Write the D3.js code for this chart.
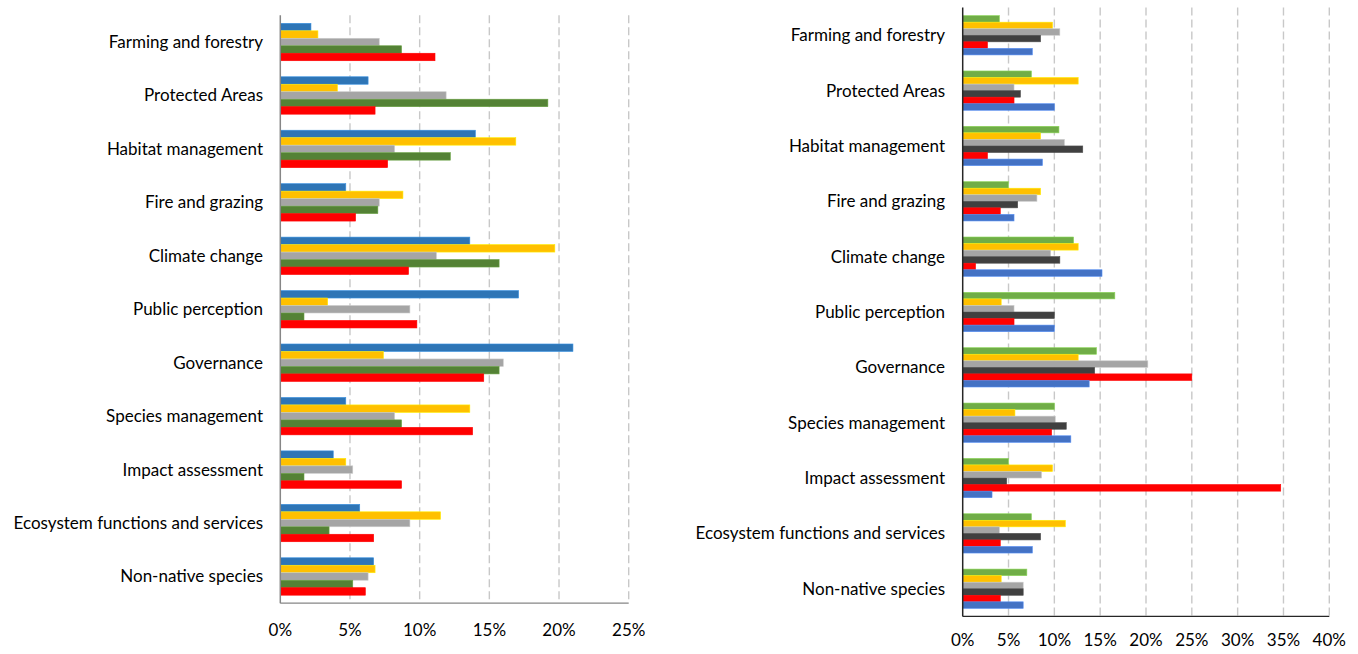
<!DOCTYPE html>
<html>
<head>
<meta charset="utf-8">
<script src="https://cdn.jsdelivr.net/npm/d3@7/dist/d3.min.js"></script>
<style>
  html, body { margin: 0; padding: 0; background: #fff; }
  svg { display: block; }
  text { font-family: "Lato", "Open Sans", sans-serif; fill: #000; }
</style>
</head>
<body>
<svg id="chart" width="1358" height="654"></svg>
<script>
// ---------- DATA ----------
const categories = [
  "Farming and forestry", "Protected Areas", "Habitat management", "Fire and grazing",
  "Climate change", "Public perception", "Governance", "Species management",
  "Impact assessment", "Ecosystem functions and services", "Non-native species"
];

// Left chart series (top-to-bottom within each group)
const leftSeriesNames = ["Blue", "Yellow", "Gray", "Green", "Red"];
const leftBlue   = [2.2, 6.3, 14.0, 4.7, 13.6, 17.1, 21.0, 4.7, 3.8, 5.7, 6.7];
const leftYellow = [2.7, 4.1, 16.9, 8.8, 19.7, 3.4, 7.4, 13.6, 4.7, 11.5, 6.8];
const leftGray   = [7.1, 11.9, 8.2, 7.1, 11.2, 9.3, 16.0, 8.2, 5.2, 9.3, 6.3];
const leftGreen  = [8.7, 19.2, 12.2, 7.0, 15.7, 1.7, 15.7, 8.7, 1.7, 3.5, 5.2];
const leftRed    = [11.1, 6.8, 7.7, 5.4, 9.2, 9.8, 14.6, 13.8, 8.7, 6.7, 6.1];
const leftColors = ["#2E75B6", "#FFC000", "#A5A5A5", "#548235", "#FF0000"];
const leftTicks  = [0, 5, 10, 15, 20, 25];

// Right chart series (top-to-bottom within each group)
const rightSeriesNames = ["Green", "Yellow", "Gray", "Dark", "Red", "Blue"];
const rightGreen  = [4.0, 7.5, 10.5, 5.0, 12.1, 16.6, 14.6, 10.0, 5.0, 7.5, 7.0];
const rightYellow = [9.8, 12.6, 8.5, 8.5, 12.6, 4.2, 12.6, 5.7, 9.8, 11.2, 4.2];
const rightGray   = [10.6, 5.6, 11.1, 8.1, 9.6, 5.6, 20.2, 10.1, 8.6, 4.0, 6.6];
const rightDark   = [8.5, 6.3, 13.1, 6.0, 10.6, 10.0, 14.4, 11.3, 4.8, 8.5, 6.6];
const rightRed    = [2.7, 5.6, 2.7, 4.1, 1.4, 5.6, 25.0, 9.7, 34.7, 4.1, 4.1];
const rightBlue   = [7.6, 10.0, 8.7, 5.6, 15.2, 10.0, 13.8, 11.8, 3.2, 7.6, 6.6];
const rightColors = ["#70AD47", "#FFC000", "#A5A5A5", "#404040", "#FF0000", "#4472C4"];
const rightTicks  = [0, 5, 10, 15, 20, 25, 30, 35, 40];

// ---------- DRAW ----------
const svg = d3.select("#chart");

function drawChart(cfg) {
  const g = svg.append("g");
  const x = d3.scaleLinear().domain([0, cfg.max]).range([cfg.x0, cfg.x1]);
  const y = d3.scaleBand().domain(categories).range([cfg.y0, cfg.y1]).paddingInner(0).paddingOuter(0);
  const step = y.bandwidth();
  const groupH = step * cfg.groupFrac;
  const sub = d3.scaleBand().domain(cfg.names).range([(step - groupH) / 2, (step + groupH) / 2]);

  // gridlines
  g.append("g").selectAll("line").data(cfg.ticks.filter(t => t > 0)).join("line")
    .attr("x1", d => x(d)).attr("x2", d => x(d))
    .attr("y1", cfg.y0).attr("y2", cfg.y1)
    .attr("stroke", "#C8C8C8").attr("stroke-width", 1.4)
    .attr("stroke-dasharray", "8,4");

  // bars
  const rows = categories.map((c, i) => ({ cat: c, vals: cfg.series.map(s => s[i]) }));
  const grp = g.append("g").selectAll("g").data(rows).join("g")
    .attr("transform", d => `translate(0,${y(d.cat)})`);
  grp.selectAll("rect").data(d => d.vals.map((v, j) => ({ v, j }))).join("rect")
    .attr("x", x(0))
    .attr("y", d => sub(cfg.names[d.j]))
    .attr("width", d => x(d.v) - x(0))
    .attr("height", sub.bandwidth())
    .attr("fill", d => cfg.colors[d.j])
    .attr("stroke", d => d3.color(cfg.colors[d.j]).brighter(0.6))
    .attr("stroke-width", 0.6);

  // axes lines
  g.append("line").attr("x1", x(0)).attr("x2", x(0)).attr("y1", cfg.y0).attr("y2", cfg.y1)
    .attr("stroke", cfg.axisColor).attr("stroke-width", 1.5);
  g.append("line").attr("x1", x(0)).attr("x2", x(cfg.max)).attr("y1", cfg.y1).attr("y2", cfg.y1)
    .attr("stroke", cfg.axisColor).attr("stroke-width", 1.2);

  // category labels
  g.append("g").selectAll("text").data(categories).join("text")
    .attr("x", cfg.labelX)
    .attr("y", d => y(d) + step / 2)
    .attr("dy", "0.35em")
    .attr("text-anchor", "end")
    .attr("font-size", cfg.fontSize)
    .text(d => d);

  // tick labels
  g.append("g").selectAll("text").data(cfg.ticks).join("text")
    .attr("x", d => x(d))
    .attr("y", cfg.tickY)
    .attr("dy", "0.35em")
    .attr("text-anchor", "middle")
    .attr("font-size", cfg.fontSize)
    .text(d => d + "%");
}

drawChart({
  max: 25, x0: 280.3, x1: 628.7, y0: 15.3, y1: 603.2, groupFrac: 0.70,
  names: leftSeriesNames, series: [leftBlue, leftYellow, leftGray, leftGreen, leftRed],
  colors: leftColors, ticks: leftTicks, axisColor: "#868686",
  labelX: 263, tickY: 630, fontSize: 17
});

drawChart({
  max: 40, x0: 962.7, x1: 1329.3, y0: 7.6, y1: 616.4, groupFrac: 0.71,
  names: rightSeriesNames, series: [rightGreen, rightYellow, rightGray, rightDark, rightRed, rightBlue],
  colors: rightColors, ticks: rightTicks, axisColor: "#262626",
  labelX: 945, tickY: 640, fontSize: 17
});
</script>
</body>
</html>
